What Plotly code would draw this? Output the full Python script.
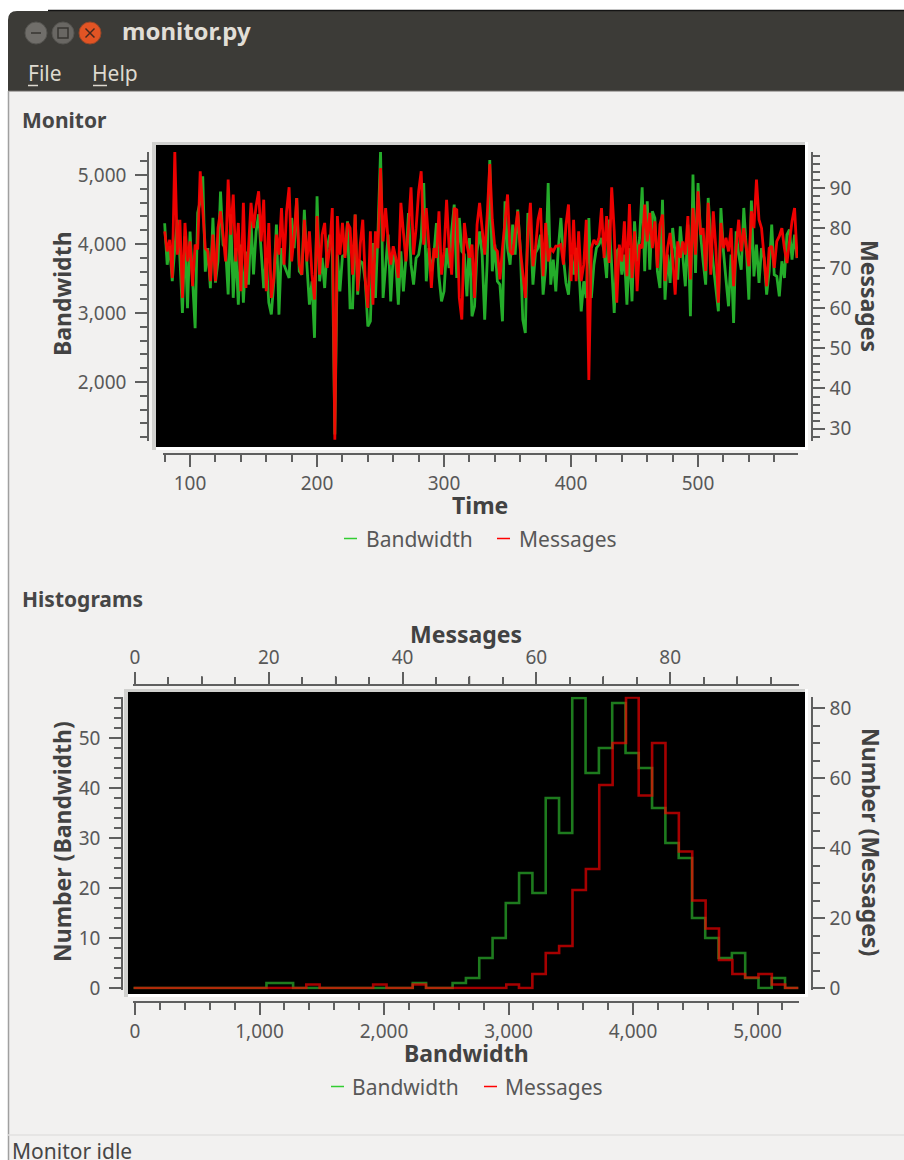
import plotly.graph_objects as go

# ---------- monitor chart data ----------
time_values = [80 + 2 * i for i in range(250)]
bandwidth_series = [
 4300,3700,3970,3460,3940,4350,3800,3000,4110,3070,4180,3460,2780,4450,4620,4980,3600,3940,3360,4380,3440,3750,4760,3990,3940,3270,4430,3220,3940,3120,3990,3150,3890,3410,4330,3560,4180,4430,3940,3360,3800,3150,2980,
 3459,4280,2976,3940,3700,3600,3507,4377,3940,4667,3604,3556,4497,3700,3121,3459,2640,4690,3459,3797,3362,3942,4135,3942,1240,3846,3314,3821,3846,4328,3073,3073,4425,3266,3749,3725,3459,2807,2880,4014,3218,4183,5343,
 3218,3725,4135,3169,3846,3749,3121,3894,3314,3797,4449,3700,3411,3797,3846,4087,4884,3459,3942,3604,3846,4304,3531,3169,3314,3942,3652,4183,4570,3507,4377,3894,3846,3242,4087,2952,3097,3894,4183,3846,2903,3749,5217,
 3604,3990,3459,3411,2879,4618,3942,3700,4280,3846,4497,3942,2903,2710,4449,4232,3411,3870,3942,4135,3266,3652,4884,3411,3773,3314,3942,4377,3797,3435,3266,3846,3556,3942,3700,3024,3459,3218,4377,3218,3700,3942,3990,
 4087,3894,3507,4353,3749,3000,3894,3942,3556,3846,3121,3942,3169,4328,3749,4087,4821,3604,4618,3628,4473,4377,3604,3362,4642,3193,3846,3435,4232,3797,3483,4256,3749,3387,4280,2952,5005,3580,4884,4135,
 3749,3411,4667,4087,3700,3314,3024,4522,3894,3483,3097,3846,2855,4183,3846,3628,4522,3942,3193,4628,3531,3990,3435,3942,3797,3266,3604,4280,3556,3531,3242,3749,3507,4135,4208,3773,4135,3797,
]
messages_series = [
 79.2,74.2,77.1,67.6,99.2,73.4,82.1,62.6,81.3,71.7,76.7,65.5,75.9,74.7,94.2,84.2,75,74.2,66.8,78.4,66.8,80,84.2,78.4,71.7,92.1,78.4,88.4,71.7,81.3,64.3,86.3,65.1,75,86.3,80,85.5,89.2,76.7,87.1,64.3,81.3,62.6,
 67.6,78.4,73.4,85,70.9,84.2,90.2,71.7,78.4,87.5,70.9,68.4,82.1,71.7,79.2,68.4,62.2,83,68.4,78.4,81.3,70.1,75,85,27.2,83,73.4,81.3,72.6,81.3,80,68.4,83.4,64.3,75.9,82.1,66.8,60.1,79.2,60.9,79.2,75,95,
 76.7,85,76.7,70.9,75.5,72.6,67.6,86.3,78.4,71.7,80,90.2,73.4,80,89.2,94.2,75.9,85,75.9,65.1,75,72.6,84.2,68.4,74.2,87.1,75,68.4,85,84.6,62.6,57.2,81.3,75.9,72.6,75.9,62.6,80.9,86.3,80,73.4,83.4,96,
 82.1,75,74.2,67.2,75,82.1,88.4,74.2,73.4,79.2,84.2,75,68.4,62.6,78,86.3,70.5,75,82.1,85,68,81.3,71.7,75,74.2,75.5,75.5,75.9,70.9,80.9,85.9,66.8,82.1,66.8,79.2,66.8,70.9,82.1,42.1,75,77.1,75.9,77.6,
 85,72.6,83,71.3,90.2,79.2,61.4,75.9,71.7,81.7,68,86,67.6,79.2,64.3,75.9,75,85.9,76.7,83.8,75,81.7,70.1,80.9,83.4,66.8,75,78.8,72.6,63.4,76.7,72.6,76.7,73.4,83,67.2,85,73.4,89.2,78.4,
 80,69.3,86.3,68.4,84.2,75,61.4,81.3,75,77.6,74.2,80,65.5,75,82.1,74.2,80,75,70.5,84.2,80,92.1,82.1,80,73.4,65.5,75,75.5,70.1,76.7,78,80,75,71.3,76.7,81.7,85,72.6,
]

# ---------- histogram data ----------
bandwidth_edges = [-12,95,202,308,415,522,629,736,842,949,1056,1163,1270,1376,1483,1590,1697,1804,1910,2017,2124,2231,2338,2444,2551,2658,2765,2872,2978,3085,3192,3299,3406,3512,3619,3726,3833,3940,4046,4153,4260,4367,4474,4580,4687,4794,4901,5008,5114,5221,5328]
messages_edges = [-0.2,1.8,3.8,5.7,7.7,9.7,11.7,13.7,15.7,17.7,19.7,21.6,23.6,25.6,27.6,29.6,31.6,33.6,35.6,37.6,39.5,41.5,43.5,45.5,47.5,49.5,51.5,53.5,55.5,57.4,59.4,61.4,63.4,65.4,67.4,69.4,71.4,73.4,75.3,77.3,79.3,81.3,83.3,85.3,87.3,89.3,91.2,93.2,95.2,97.2,99.2]
bandwidth_counts = [0,0,0,0,0,0,0,0,0,0,1,1,0,0,0,0,0,0,0,0,0,1,0,0,1,2,6,10,17,23,19,38,31,58,43,48,57,47,44,36,29,26,14,10,6,7,2,0,2,0]
messages_counts = [0,0,0,0,0,0,0,0,0,0,0,0,0,1,0,0,0,0,1,0,0,1,0,0,0,0,0,0,1,0,4,10,12,28,34,58,70,83,55,70,50,39,25,17,8,4,3,4,1,0]

W, H = 904, 1160
FONT = "Noto Sans"
def px(x): return x / W
def py(y): return 1 - y / H

TICK = "rgb(95,95,95)"
LABEL = "rgb(88,88,88)"
TITLE = "rgb(66,66,66)"
BG = "rgb(242,241,240)"
BAR = "rgb(60,59,55)"

shapes, annos = [], []
def rect(x0, y0, x1, y1, color):
    shapes.append(dict(type="rect", xref="paper", yref="paper", x0=px(x0), x1=px(x1), y0=py(y0), y1=py(y1),
                       fillcolor=color, line=dict(width=0), layer="below"))
def seg(x0, y0, x1, y1, color, w=1.5):
    shapes.append(dict(type="line", xref="paper", yref="paper", x0=px(x0), x1=px(x1), y0=py(y0), y1=py(y1),
                       line=dict(color=color, width=w), layer="below"))
def circ(cx, cy, r, fill, edge):
    shapes.append(dict(type="circle", xref="paper", yref="paper", x0=px(cx-r), x1=px(cx+r), y0=py(cy+r), y1=py(cy-r),
                       fillcolor=fill, line=dict(color=edge, width=1), layer="below"))
def text(x, y, s, size, color=LABEL, bold=False, anchor="left", angle=0):
    annos.append(dict(xref="paper", yref="paper", x=px(x), y=py(y), text=f"<b>{s}</b>" if bold else s,
                      showarrow=False, xanchor=anchor, yanchor="middle", textangle=angle,
                      font=dict(family=FONT, size=size, color=color), borderpad=0, borderwidth=0))

# window chrome
rect(8, 91, 904, 1160, BG)
shapes.append(dict(type="path", xref="paper", yref="paper", layer="below", fillcolor=BAR, line=dict(width=0),
    path=f"M {px(8)} {py(91)} L {px(8)} {py(20)} Q {px(8)} {py(11)} {px(17)} {py(11)} L {px(904)} {py(11)} L {px(904)} {py(91)} Z"))
seg(48, 10.5, 904, 10.5, "rgb(20,20,20)", 1.5)
seg(8, 91, 904, 91, "rgb(110,108,104)", 1)
seg(8.5, 91, 8.5, 1160, "rgb(160,160,160)", 1.5)
seg(8, 1135, 904, 1135, "rgb(226,225,224)", 1.5)
circ(36, 33, 11, "rgb(112,110,106)", "rgb(85,84,80)")
circ(63, 33, 11, "rgb(105,103,99)", "rgb(85,84,80)")
circ(90, 33, 11, "rgb(226,84,36)", "rgb(150,70,40)")
seg(31, 33, 41, 33, "rgb(55,54,50)", 1.5)
shapes.append(dict(type="rect", xref="paper", yref="paper", layer="below", x0=px(58), x1=px(68), y0=py(38), y1=py(28),
                   line=dict(color="rgb(55,54,50)", width=1.5)))
seg(85.5, 28.5, 94.5, 37.5, "rgb(70,40,30)", 1.5)
seg(85.5, 37.5, 94.5, 28.5, "rgb(70,40,30)", 1.5)
text(122, 31, "monitor.py", 24, "rgb(225,222,214)", True)
text(28, 73, "File", 21, "rgb(222,218,208)")
text(92, 73, "Help", 21, "rgb(222,218,208)")
seg(28, 85.5, 38, 85.5, "rgb(222,218,208)", 1.5)
seg(93, 85.5, 107, 85.5, "rgb(222,218,208)", 1.5)
text(22, 120, "Monitor", 21, "rgb(70,70,70)", True)
text(22, 599, "Histograms", 21, "rgb(70,70,70)", True)
text(12, 1151, "Monitor idle", 21, "rgb(70,70,70)")

# plot canvases with bevel
for (x0, y0, x1, y1) in [(156, 145, 805, 447), (128, 692, 805, 994)]:
    rect(x0 - 4, y0 - 3, x1 + 3, y1 + 3, "rgb(255,255,255)")
    rect(x0 - 4, y0 - 3, x1, y0, "rgb(208,208,206)")
    rect(x0 - 4, y0 - 3, x0, y1 + 3, "rgb(208,208,206)")
    rect(x0, y0, x1, y1, "rgb(0,0,0)")

def axis(**kw):
    d = dict(showgrid=False, zeroline=False, showline=True, linecolor=TICK, linewidth=1.5,
             ticks="outside", ticklen=12, tickwidth=1.5, tickcolor=TICK, tickformat=",d",
             tickfont=dict(family=FONT, size=19, color=LABEL), anchor="free", automargin=False)
    minor = kw.pop("minor_dtick")
    d["minor"] = dict(dtick=minor, ticks="outside", ticklen=7, tickwidth=1.5, tickcolor=TICK, showgrid=False)
    d.update(kw)
    return d

fig = go.Figure()
G_TOP = "rgb(36,172,42)"
R_TOP = "rgba(255,0,0,0.93)"
G_H = "rgba(50,205,50,0.6)"
R_H = "rgba(255,0,0,0.65)"

fig.add_trace(go.Scatter(x=time_values, y=bandwidth_series, name="Bandwidth", mode="lines", cliponaxis=False,
                         line=dict(color=G_TOP, width=2.8), xaxis="x", yaxis="y"))
fig.add_trace(go.Scatter(x=time_values, y=messages_series, name="Messages", mode="lines", cliponaxis=False,
                         line=dict(color=R_TOP, width=2.8), xaxis="x", yaxis="y2"))
fig.add_trace(go.Scatter(x=bandwidth_edges, y=bandwidth_counts + bandwidth_counts[-1:], name="Bandwidth", mode="lines", cliponaxis=False,
                         line=dict(color=G_H, width=2.6, shape="hv"), xaxis="x3", yaxis="y3"))
fig.add_trace(go.Scatter(x=messages_edges, y=messages_counts + messages_counts[-1:], name="Messages", mode="lines", cliponaxis=False,
                         line=dict(color=R_H, width=2.6, shape="hv"), xaxis="x4", yaxis="y4"))

top_y = [py(441), py(152)]
top_x = [px(163), px(798)]
hist_y = [py(989.5), py(696.8)]
hist_x = [px(133), px(798.6)]

# axis scales
layout = dict(
    xaxis=axis(domain=top_x, range=[78.7, 578.7], position=py(454), dtick=100, minor_dtick=20),
    yaxis=axis(domain=top_y, range=[1145, 5333], position=px(148), dtick=1000, minor_dtick=200, ticklabelstandoff=5),
    yaxis2=axis(domain=top_y, range=[26.9, 99], position=px(812), dtick=10, minor_dtick=2, side="right", overlaying="y", ticklabelstandoff=1),
    xaxis3=axis(domain=hist_x, range=[-16, 5330], position=py(1002), dtick=1000, minor_dtick=200),
    yaxis3=axis(domain=hist_y, range=[-0.3, 58.24], position=px(122), dtick=10, minor_dtick=2, ticklabelstandoff=5),
    xaxis4=axis(domain=hist_x, range=[-0.3, 99.2], position=py(685), dtick=20, minor_dtick=5, side="top", overlaying="x3", ticklabelstandoff=1),
    yaxis4=axis(domain=hist_y, range=[-0.43, 83.2], position=px(812), dtick=20, minor_dtick=5, side="right", overlaying="y3", ticklabelstandoff=1),
)

# mid-level ticks on the upper histogram axis
for v in [10, 30, 50, 70, 90]:
    shapes.append(dict(type="line", xref="x4", yref="paper", x0=v, x1=v, y0=py(685), y1=py(676),
                       line=dict(color=TICK, width=1.5), layer="below"))

# axis titles
text(480, 505, "Time", 23, TITLE, True, "center")
text(62, 293, "Bandwidth", 23, TITLE, True, "center", -90)
text(870, 296, "Messages", 23, TITLE, True, "center", 90)
text(466, 634, "Messages", 23, TITLE, True, "center")
text(466, 1053, "Bandwidth", 23, TITLE, True, "center")
text(62, 841, "Number (Bandwidth)", 23, TITLE, True, "center", -90)
text(871, 842, "Number (Messages)", 23, TITLE, True, "center", 90)

# legends
for y, gx, tx1, rx, tx2 in [(538.5, 344, 366, 497, 519), (1086.5, 331, 352, 484, 505)]:
    seg(gx, y, gx + 13, y, "rgb(50,205,50)", 1.5)
    text(tx1, y, "Bandwidth", 21, LABEL)
    seg(rx, y, rx + 13, y, "rgb(255,0,0)", 1.5)
    text(tx2, y, "Messages", 21, LABEL)

fig.update_layout(width=W, height=H, margin=dict(l=0, r=0, t=0, b=0, pad=0), showlegend=False,
                  paper_bgcolor="white", plot_bgcolor="rgba(0,0,0,0)", shapes=shapes, annotations=annos,
                  font=dict(family=FONT), **layout)
fig.write_html("out.html", config=dict(displayModeBar=False),
               post_script="document.body.style.margin='0';document.body.style.overflow='hidden';")
